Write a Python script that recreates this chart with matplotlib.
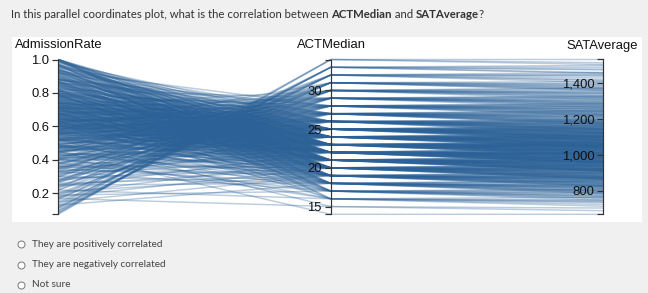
import matplotlib
matplotlib.use("Agg")
import matplotlib.pyplot as plt
from matplotlib.lines import Line2D
from matplotlib.patches import Rectangle
from matplotlib.ticker import FixedLocator, FuncFormatter, NullFormatter
import numpy as np

# ---------------- data ----------------
dimensions = ["AdmissionRate", "ACTMedian", "SATAverage"]

admission_rate = [
    # ACT 34 .. 14 (first group)
    0.075, 0.08, 0.11,
    0.085, 0.09, 0.13, 0.16,
    0.10, 0.14, 0.18, 0.23, 0.33,
    0.12, 0.19, 0.26, 0.34, 0.45, 0.58,
    0.17, 0.24, 0.31, 0.40, 0.48, 0.55, 0.64, 0.72,
    0.22, 0.30, 0.38, 0.46, 0.53, 0.60, 0.67, 0.74, 0.82,
    0.28, 0.36, 0.44, 0.51, 0.57, 0.62, 0.68, 0.73, 0.79, 0.86, 0.93,
    0.25, 0.35, 0.42, 0.49, 0.55, 0.59, 0.63, 0.67, 0.71, 0.76, 0.81, 0.88, 0.95,
    0.31, 0.40, 0.47, 0.52, 0.56, 0.60, 0.63, 0.66, 0.69, 0.72, 0.75, 0.79, 0.83, 0.88, 0.92, 0.98,
    0.27, 0.38, 0.45, 0.50, 0.54, 0.57, 0.60, 0.62, 0.65, 0.67, 0.70, 0.72, 0.74, 0.77, 0.80, 0.83, 0.86, 0.90, 0.94, 0.99,
    0.33, 0.41, 0.47, 0.52, 0.55, 0.58, 0.60, 0.62, 0.64, 0.66, 0.68, 0.70, 0.72, 0.74, 0.76, 0.79, 0.81, 0.84, 0.87, 0.91, 0.95, 1.00,
    0.30, 0.39, 0.46, 0.50, 0.53, 0.56, 0.58, 0.60, 0.62, 0.64, 0.66, 0.68, 0.70, 0.71, 0.73, 0.75, 0.77, 0.79, 0.82, 0.85, 0.88, 0.92, 0.96, 1.00,
    0.24, 0.35, 0.43, 0.48, 0.52, 0.55, 0.57, 0.59, 0.61, 0.63, 0.65, 0.67, 0.69, 0.71, 0.73, 0.75, 0.78, 0.80, 0.83, 0.86, 0.89, 0.93, 0.97, 1.00,
    0.20, 0.32, 0.40, 0.46, 0.50, 0.54, 0.57, 0.60, 0.62, 0.64, 0.66, 0.68, 0.70, 0.73, 0.76, 0.79, 0.82, 0.85, 0.88, 0.92, 0.96, 0.99,
    0.18, 0.29, 0.37, 0.44, 0.49, 0.53, 0.57, 0.60, 0.63, 0.66, 0.69, 0.72, 0.76, 0.80, 0.84, 0.89, 0.94, 0.99,
    0.15, 0.26, 0.36, 0.43, 0.49, 0.54, 0.58, 0.62, 0.67, 0.72, 0.78, 0.85, 0.92, 0.99,
    0.13, 0.25, 0.35, 0.45, 0.52, 0.60, 0.68, 0.77, 0.87, 0.97,
    0.19, 0.33, 0.48, 0.61, 0.79, 0.95,
    0.22, 0.41, 0.66, 0.90,
    0.17, 0.52,
    0.45,
    # second group
    0.45, 0.51, 0.58, 0.61, 0.64, 0.68, 0.71, 0.74, 0.78, 0.84, 0.89, 0.96,
    0.42, 0.48, 0.53, 0.56, 0.59, 0.61, 0.64, 0.66, 0.69, 0.71, 0.73, 0.76, 0.78, 0.81, 0.85, 0.88, 0.93, 0.97,
    0.40, 0.45, 0.50, 0.53, 0.56, 0.59, 0.61, 0.63, 0.65, 0.67, 0.69, 0.71, 0.73, 0.75, 0.77, 0.80, 0.82, 0.85, 0.88, 0.92, 0.96, 0.99,
    0.36, 0.43, 0.48, 0.52, 0.55, 0.57, 0.59, 0.61, 0.63, 0.65, 0.67, 0.69, 0.72, 0.74, 0.76, 0.78, 0.80, 0.83, 0.86, 0.89, 0.91, 0.94, 0.97, 0.99,
    0.33, 0.41, 0.47, 0.51, 0.54, 0.56, 0.58, 0.60, 0.62, 0.64, 0.66, 0.68, 0.70, 0.72, 0.74, 0.77, 0.79, 0.81, 0.84, 0.87, 0.90, 0.94, 0.98, 1.00,
    0.28, 0.38, 0.44, 0.49, 0.52, 0.55, 0.58, 0.61, 0.63, 0.65, 0.67, 0.70, 0.72, 0.75, 0.78, 0.81, 0.84, 0.87, 0.90, 0.93, 0.97, 1.00,
    0.25, 0.36, 0.43, 0.48, 0.52, 0.56, 0.59, 0.62, 0.65, 0.68, 0.71, 0.74, 0.78, 0.82, 0.86, 0.91, 0.96, 1.00,
    0.21, 0.34, 0.42, 0.48, 0.53, 0.57, 0.61, 0.65, 0.70, 0.75, 0.81, 0.87, 0.94, 1.00,
    0.30, 0.40, 0.49, 0.56, 0.63, 0.71, 0.79, 0.86, 0.93, 1.00,
    0.38, 0.55, 0.68, 0.82, 0.91, 1.00,
    0.47, 0.74, 0.97,
    0.38, 0.45, 0.52, 0.58, 0.64, 0.69, 0.74, 0.80, 0.86, 0.92,
    0.32, 0.41, 0.49, 0.56, 0.63, 0.70, 0.78, 0.88,
    0.27, 0.35, 0.44, 0.52, 0.62, 0.71,
    0.20, 0.28, 0.37, 0.47, 0.58,
    0.15, 0.22, 0.30, 0.41,
    0.11, 0.17, 0.27,
    0.095, 0.12,
]

act_median = [
    34, 34, 34,
    33, 33, 33, 33,
    32, 32, 32, 32, 32,
    31, 31, 31, 31, 31, 31,
    30, 30, 30, 30, 30, 30, 30, 30,
    29, 29, 29, 29, 29, 29, 29, 29, 29,
    28, 28, 28, 28, 28, 28, 28, 28, 28, 28, 28,
    27, 27, 27, 27, 27, 27, 27, 27, 27, 27, 27, 27, 27,
    26, 26, 26, 26, 26, 26, 26, 26, 26, 26, 26, 26, 26, 26, 26, 26,
    25, 25, 25, 25, 25, 25, 25, 25, 25, 25, 25, 25, 25, 25, 25, 25, 25, 25, 25, 25,
    24, 24, 24, 24, 24, 24, 24, 24, 24, 24, 24, 24, 24, 24, 24, 24, 24, 24, 24, 24, 24, 24,
    23, 23, 23, 23, 23, 23, 23, 23, 23, 23, 23, 23, 23, 23, 23, 23, 23, 23, 23, 23, 23, 23, 23, 23,
    22, 22, 22, 22, 22, 22, 22, 22, 22, 22, 22, 22, 22, 22, 22, 22, 22, 22, 22, 22, 22, 22, 22, 22,
    21, 21, 21, 21, 21, 21, 21, 21, 21, 21, 21, 21, 21, 21, 21, 21, 21, 21, 21, 21, 21, 21,
    20, 20, 20, 20, 20, 20, 20, 20, 20, 20, 20, 20, 20, 20, 20, 20, 20, 20,
    19, 19, 19, 19, 19, 19, 19, 19, 19, 19, 19, 19, 19, 19,
    18, 18, 18, 18, 18, 18, 18, 18, 18, 18,
    17, 17, 17, 17, 17, 17,
    16, 16, 16, 16,
    15, 15,
    14,
    # second group
    26, 26, 26, 26, 26, 26, 26, 26, 26, 26, 26, 26,
    25, 25, 25, 25, 25, 25, 25, 25, 25, 25, 25, 25, 25, 25, 25, 25, 25, 25,
    24, 24, 24, 24, 24, 24, 24, 24, 24, 24, 24, 24, 24, 24, 24, 24, 24, 24, 24, 24, 24, 24,
    23, 23, 23, 23, 23, 23, 23, 23, 23, 23, 23, 23, 23, 23, 23, 23, 23, 23, 23, 23, 23, 23, 23, 23,
    22, 22, 22, 22, 22, 22, 22, 22, 22, 22, 22, 22, 22, 22, 22, 22, 22, 22, 22, 22, 22, 22, 22, 22,
    21, 21, 21, 21, 21, 21, 21, 21, 21, 21, 21, 21, 21, 21, 21, 21, 21, 21, 21, 21, 21, 21,
    20, 20, 20, 20, 20, 20, 20, 20, 20, 20, 20, 20, 20, 20, 20, 20, 20, 20,
    19, 19, 19, 19, 19, 19, 19, 19, 19, 19, 19, 19, 19, 19,
    18, 18, 18, 18, 18, 18, 18, 18, 18, 18,
    17, 17, 17, 17, 17, 17,
    16, 16, 16,
    27, 27, 27, 27, 27, 27, 27, 27, 27, 27,
    28, 28, 28, 28, 28, 28, 28, 28,
    29, 29, 29, 29, 29, 29,
    30, 30, 30, 30, 30,
    31, 31, 31, 31,
    32, 32, 32,
    33, 33,
]

sat_average = [
    1533, 1515, 1505,
    1490, 1475, 1460, 1480,
    1450, 1430, 1440, 1415, 1420,
    1400, 1385, 1375, 1395, 1365, 1380,
    1360, 1340, 1355, 1330, 1345, 1320, 1350, 1335,
    1310, 1295, 1320, 1290, 1305, 1285, 1300, 1280, 1315,
    1270, 1255, 1260, 1245, 1275, 1250, 1240, 1265, 1235, 1255, 1280,
    1230, 1210, 1220, 1200, 1215, 1195, 1225, 1205, 1190, 1235, 1210, 1200, 1185,
    1180, 1165, 1175, 1150, 1190, 1160, 1145, 1170, 1155, 1185, 1140, 1165, 1150, 1175, 1160, 1145,
    1140, 1120, 1135, 1110, 1150, 1125, 1105, 1130, 1115, 1145, 1100, 1120, 1135, 1110, 1125, 1095, 1140, 1115, 1105, 1130,
    1100, 1080, 1095, 1070, 1105, 1085, 1065, 1090, 1075, 1110, 1060, 1085, 1095, 1070, 1080, 1055, 1100, 1075, 1065, 1090, 1080, 1070,
    1055, 1040, 1050, 1030, 1060, 1045, 1025, 1050, 1035, 1065, 1020, 1040, 1055, 1030, 1045, 1015, 1060, 1035, 1025, 1050, 1040, 1030, 1045, 1020,
    1010, 995, 1005, 985, 1020, 1000, 980, 1005, 990, 1015, 975, 995, 1010, 985, 1000, 970, 1015, 990, 980, 1005, 995, 985, 1000, 975,
    970, 950, 960, 940, 975, 955, 935, 960, 945, 970, 930, 950, 965, 940, 955, 925, 970, 945, 935, 960, 950, 940,
    925, 905, 915, 895, 930, 910, 890, 915, 900, 925, 885, 905, 920, 895, 910, 880, 925, 900,
    880, 860, 870, 850, 885, 865, 845, 870, 855, 880, 840, 860, 875, 850,
    835, 815, 825, 805, 840, 820, 800, 825, 810, 830,
    790, 770, 780, 760, 795, 775,
    745, 725, 750, 735,
    705, 690,
    670,
    # second group
    1195, 1130, 1170, 1140, 1185, 1125, 1160, 1200, 1135, 1150, 1175, 1120,
    1160, 1085, 1125, 1100, 1155, 1090, 1140, 1080, 1120, 1165, 1105, 1095, 1150, 1130, 1085, 1110, 1145, 1100,
    1120, 1045, 1085, 1060, 1115, 1050, 1095, 1040, 1075, 1125, 1065, 1055, 1105, 1090, 1045, 1070, 1110, 1060, 1050, 1100, 1085, 1040,
    1075, 1005, 1045, 1015, 1070, 1010, 1055, 995, 1035, 1080, 1020, 1000, 1065, 1050, 1005, 1025, 1070, 1015, 1010, 1060, 1040, 1000, 1055, 1030,
    1035, 960, 1000, 970, 1030, 965, 1010, 955, 990, 1040, 975, 960, 1025, 1005, 960, 980, 1030, 970, 965, 1015, 995, 955, 1010, 985,
    990, 915, 955, 925, 985, 920, 965, 910, 945, 995, 930, 915, 980, 960, 915, 935, 985, 925, 920, 970, 950, 910,
    945, 870, 910, 880, 940, 875, 920, 865, 900, 950, 885, 870, 935, 915, 870, 890, 940, 880,
    900, 830, 865, 840, 895, 835, 875, 825, 860, 905, 845, 830, 890, 870,
    855, 790, 820, 800, 850, 795, 830, 785, 815, 860,
    810, 750, 785, 760, 805, 770,
    765, 715, 740,
    1245, 1175, 1215, 1180, 1240, 1170, 1225, 1190, 1250, 1180,
    1290, 1225, 1260, 1230, 1285, 1220, 1270, 1245,
    1330, 1265, 1300, 1275, 1325, 1290,
    1375, 1310, 1345, 1325, 1370,
    1410, 1360, 1390, 1370,
    1460, 1405, 1445,
    1500, 1455,
]

adm_ticks = [0.2, 0.4, 0.6, 0.8, 1.0]
act_ticks = [15, 20, 25, 30]
sat_ticks = [800, 1000, 1200, 1400]

question_parts = [
    ("In this parallel coordinates plot, what is the correlation between ", "normal"),
    ("ACTMedian", "bold"),
    (" and ", "normal"),
    ("SATAverage", "bold"),
    ("?", "normal"),
]
options = ["They are positively correlated", "They are negatively correlated", "Not sure"]

# ---------------- figure ----------------
W, H = 648, 293
DPI = 100
fig = plt.figure(figsize=(W / DPI, H / DPI), dpi=DPI, facecolor="#f0f0f0")

def fx(px):
    return px / W

def fy(py):
    return 1 - py / H

# white panel (behind the axes)
fig.patches.append(Rectangle((fx(12), fy(222)), fx(642) - fx(12), fy(37) - fy(222),
                             transform=fig.transFigure, facecolor="white",
                             edgecolor="none", zorder=-5))

ax_left, ax_right = 58.3, 603.3
ax_top, ax_bot = 59.5, 214.3
rect = [fx(ax_left), fy(ax_bot), fx(ax_right) - fx(ax_left), (ax_bot - ax_top) / H]

host = fig.add_axes(rect, frameon=False)
host.set_zorder(1)
host.set_xlim(0, 2)
host.set_ylim(0, 1)
host.axis("off")

cols = [np.asarray(admission_rate, float), np.asarray(act_median, float),
        np.asarray(sat_average, float)]
domains = [(c.min(), c.max()) for c in cols]
norm = np.column_stack([(c - lo) / (hi - lo) for c, (lo, hi) in zip(cols, domains)])

xs = [0, 1, 2]
line_color = "#2b6197"
for row in norm:
    host.plot(xs, row, color=line_color, alpha=0.32, lw=1.05, solid_capstyle="butt",
              clip_on=False)

tick_sets = [adm_ticks, act_ticks, sat_ticks]
formatters = [
    FuncFormatter(lambda v, p: f"{v:.1f}"),
    FuncFormatter(lambda v, p: f"{v:.0f}"),
    FuncFormatter(lambda v, p: f"{v:,.0f}"),
]
px2pt = 72 / DPI
for i, (lo, hi) in enumerate(domains):
    a = fig.add_axes(rect, frameon=True)
    a.set_zorder(2 + i)
    a.patch.set_visible(False)
    a.set_xlim(0, 2)
    a.set_ylim(lo, hi)
    for s in ["top", "right", "bottom"]:
        a.spines[s].set_visible(False)
    a.spines["left"].set_position(("data", i))
    a.spines["left"].set_color("#333333")
    a.spines["left"].set_linewidth(1.2 * px2pt)
    a.set_xticks([])
    a.yaxis.set_major_locator(FixedLocator(tick_sets[i]))
    a.yaxis.set_major_formatter(formatters[i])
    a.yaxis.set_minor_locator(FixedLocator([lo, hi]))
    a.yaxis.set_minor_formatter(NullFormatter())
    a.tick_params(axis="y", which="both", direction="out", length=6 * px2pt,
                  width=1.2 * px2pt, color="#333333", pad=3 * px2pt,
                  labelsize=13 * px2pt, labelcolor="#111111")
    for lab in a.get_yticklabels():
        lab.set_fontfamily("Liberation Sans")

# axis titles
title_kw = dict(fontsize=13 * px2pt, color="#111111", family="Liberation Sans",
                va="center", transform=fig.transFigure)
fig.text(fx(15), fy(45.5), dimensions[0], ha="left", **title_kw)
fig.text(fx(331), fy(45.5), dimensions[1], ha="center", **title_kw)
fig.text(fx(638), fy(45.5), dimensions[2], ha="right", **title_kw)

# question text
renderer = fig.canvas.get_renderer()
x = fx(11)
for txt, wt in question_parts:
    t = fig.text(x, fy(15), txt, fontsize=11.4 * px2pt, color="#333333", family="Lato",
                 weight=wt, ha="left", va="center")
    bb = t.get_window_extent(renderer)
    x = bb.x1 / W

# radio options
for k, opt in enumerate(options):
    yy = 244.3 + 20.3 * k
    fig.add_artist(Line2D([fx(21)], [fy(yy)], marker="o", markersize=7 * px2pt,
                          markerfacecolor="white", markeredgecolor="#777777",
                          markeredgewidth=0.7, transform=fig.transFigure))
    fig.text(fx(32), fy(yy), opt, fontsize=10 * px2pt, color="#444444", family="Lato",
             ha="left", va="center")

fig.savefig("out.png", dpi=DPI, facecolor=fig.get_facecolor())
